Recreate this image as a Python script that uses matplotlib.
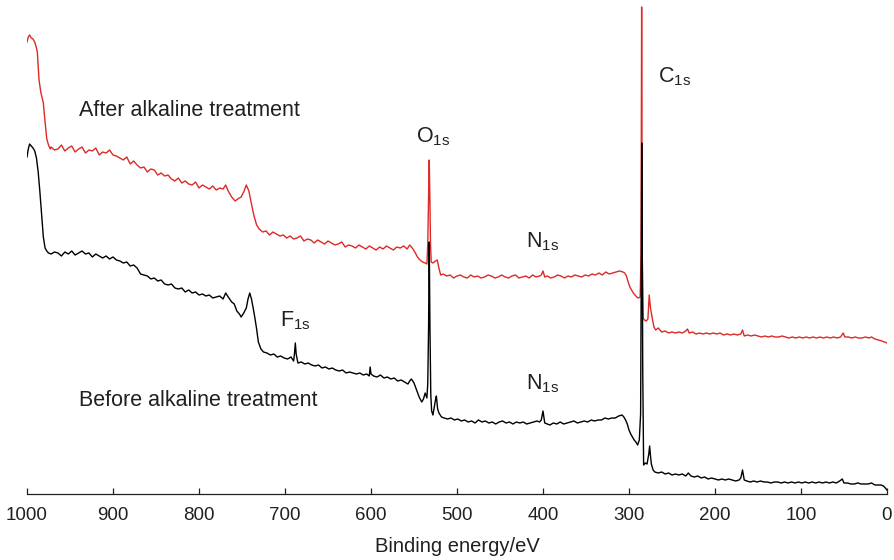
"""
XPS survey spectra before / after alkaline treatment
"""

import matplotlib

matplotlib.use("Agg")
import matplotlib.pyplot as plt

plt.rcParams['font.family'] = ['Liberation Sans', 'DejaVu Sans']
plt.rcParams['mathtext.default'] = 'regular'

# ========= data (binding energy / eV, intensity / a.u.) =========
after_ev = [
    1000, 998.5, 997, 995, 993, 991, 989, 988, 986, 984, 981, 979, 977, 975, 973,
    972, 968, 964, 960, 956, 952, 948, 944, 940, 936, 932, 928, 924, 920, 916,
    912, 908, 904, 900, 896, 892, 888, 884, 880, 876, 872, 868, 864, 860, 856,
    852, 848, 844, 840, 836, 832, 828, 824, 820, 816, 812, 808, 804, 800, 796,
    792, 788, 784, 780, 776, 772, 769, 766, 762, 758, 755, 751, 748, 745, 742,
    739, 736, 733, 730, 726, 722, 718, 714, 710, 706, 702, 698, 694, 690, 686,
    682, 678, 674, 670, 666, 662, 658, 654, 650, 646, 642, 638, 634, 630, 626,
    622, 618, 614, 610, 606, 602, 598, 594, 590, 586, 582, 578, 574, 570, 566,
    562, 558, 555, 552, 549, 546, 543, 540, 537, 535, 534, 533, 532.3, 531.6, 530.8,
    530, 528, 525, 523, 521, 519, 516, 512, 508, 504, 500, 496, 492, 488, 484,
    480, 476, 472, 468, 464, 460, 456, 452, 448, 444, 440, 436, 432, 428, 424,
    420, 416, 412, 408, 404, 402, 400, 398, 395, 391, 387, 383, 379, 375, 371,
    367, 363, 359, 355, 351, 347, 343, 339, 335, 331, 327, 323, 319, 315, 311,
    307, 305, 303, 301, 299, 297, 295, 293, 291, 289, 287, 286, 285.3, 284.6, 283.5,
    282, 280, 278, 276.5, 275, 273, 271, 269, 266, 262, 258, 254, 250, 246, 242,
    238, 234, 232, 230, 226, 222, 218, 214, 210, 206, 202, 198, 194, 190, 186,
    182, 178, 174, 170, 168, 166, 162, 158, 154, 150, 146, 142, 138, 134, 130,
    126, 122, 118, 114, 110, 106, 102, 98, 94, 90, 86, 82, 78, 74, 70,
    66, 62, 58, 54, 51, 49, 45, 41, 37, 33, 29, 25, 21, 18, 14,
    10, 6, 3, 0,
]
after_int = [
    452, 457, 459, 456, 455, 452, 446, 442, 414, 402, 391, 372, 355, 349, 345,
    347, 344, 345, 349, 343, 346, 348, 342, 345, 347, 341, 344, 343, 346, 339,
    342, 341, 344, 339, 338, 336, 334, 337, 330, 333, 329, 326, 327, 322, 325,
    324, 319, 321, 318, 319, 315, 313, 316, 311, 313, 310, 309, 312, 306, 309,
    307, 305, 308, 304, 306, 305, 309, 303, 297, 293, 295, 297, 302, 309, 303,
    290, 278, 269, 265, 262, 263, 259, 262, 260, 258, 259, 256, 258, 255, 256,
    258, 253, 255, 254, 251, 254, 252, 250, 253, 251, 249, 250, 252, 247, 249,
    248, 246, 249, 247, 245, 248, 246, 244, 247, 245, 248, 246, 244, 247, 246,
    248, 245, 249, 246, 242, 237, 234, 232, 231, 230, 250, 300, 334, 300, 250,
    232, 231, 233, 234, 226, 219, 220, 218, 219, 216, 218, 219, 217, 216, 219,
    217, 218, 216, 217, 219, 218, 216, 217, 219, 217, 216, 218, 219, 216, 217,
    218, 216, 219, 217, 218, 219, 223, 217, 218, 216, 217, 219, 218, 216, 218,
    217, 219, 218, 217, 219, 218, 220, 219, 221, 219, 222, 220, 221, 222, 223,
    222, 221, 218, 212, 207, 204, 201, 199, 197, 196, 197, 240, 487, 240, 176,
    174, 173, 175, 199, 186, 176, 167, 164, 166, 162, 163, 161, 162, 161, 162,
    161, 163, 165, 161, 162, 160, 161, 160, 161, 160, 161, 160, 161, 159, 160,
    159, 160, 159, 160, 164, 158, 159, 158, 159, 158, 157, 158, 157, 158, 157,
    157, 158, 157, 156, 157, 156, 157, 156, 157, 156, 157, 156, 157, 156, 157,
    156, 157, 156, 157, 161, 157, 157, 156, 157, 156, 156, 157, 156, 157, 155,
    154, 153, 152, 151,
]

before_ev = [
    1000, 998.5, 997, 995, 993, 991, 989, 987, 985, 983, 981, 979, 977, 975,
    972, 968, 964, 960, 956, 952, 948, 944, 940, 936, 932, 928, 924, 920, 916,
    912, 908, 904, 900, 896, 892, 888, 884, 880, 876, 872, 868, 864, 860, 856,
    852, 848, 844, 840, 836, 832, 828, 824, 820, 816, 812, 808, 804, 800, 796,
    792, 788, 784, 780, 776, 772, 769, 766, 762, 759, 756, 753, 751, 748, 745,
    743, 741, 739, 737, 735, 733, 731, 728, 725, 721, 717, 713, 709, 705, 701,
    697, 693, 690, 689, 688, 687, 685, 681, 677, 673, 669, 665, 661, 657, 653,
    649, 645, 641, 637, 633, 629, 625, 621, 617, 613, 609, 605, 602, 601, 600,
    597, 593, 589, 585, 581, 577, 573, 569, 565, 561, 557, 555, 553, 550, 547,
    544, 541, 539, 537, 535, 534, 533, 532.3, 531.5, 530.5, 529.5, 528, 525, 524,
    522.5, 521, 518, 515, 511, 507, 503, 499, 495, 491, 487, 483, 479, 475, 471,
    467, 463, 459, 455, 451, 447, 443, 439, 435, 431, 427, 423, 419, 415, 411,
    407, 404, 402, 400, 398, 395, 392, 388, 384, 380, 376, 372, 368, 364, 360,
    356, 352, 348, 344, 340, 336, 332, 328, 324, 320, 316, 312, 308, 306, 304,
    302, 300, 298, 296, 294, 292, 290, 288, 286.5, 285.6, 285.2, 284.6, 284, 283, 281,
    279, 277, 276, 275, 274, 272, 270, 266, 262, 258, 254, 250, 246, 242, 238,
    234, 231, 228, 224, 220, 216, 212, 208, 204, 200, 196, 192, 188, 184, 180,
    176, 172, 170, 168, 166, 163, 159, 155, 151, 147, 143, 139, 135, 131, 127,
    123, 119, 115, 111, 107, 103, 99, 95, 91, 87, 83, 79, 75, 71, 67,
    63, 59, 55, 52, 50, 46, 42, 38, 34, 30, 26, 22, 18, 14, 10,
    7, 4, 2, 0,
]
before_int = [
    337, 345, 350, 348, 346, 343, 336, 322, 302, 280, 257, 246, 243, 241,
    240, 242, 241, 238, 242, 240, 243, 239, 241, 243, 240, 241, 237, 240, 238,
    236, 238, 235, 237, 234, 233, 231, 232, 228, 229, 226, 220, 219, 218, 215,
    216, 213, 214, 210, 209, 210, 206, 205, 206, 202, 204, 201, 202, 199, 200,
    198, 199, 196, 197, 198, 195, 201, 197, 192, 190, 183, 180, 177, 181, 186,
    195, 201, 195, 186, 176, 165, 152, 145, 142, 141, 139, 140, 137, 138, 136,
    135, 137, 133, 140, 151, 140, 131, 132, 130, 131, 129, 128, 129, 126, 127,
    125, 126, 124, 123, 124, 121, 122, 121, 120, 121, 119, 120, 118, 127, 120,
    118, 117, 119, 116, 117, 115, 116, 113, 114, 112, 110, 113, 115, 111, 104,
    97, 92, 95, 101, 96, 110, 170, 252, 170, 100, 83, 79, 94, 98,
    85, 81, 77, 76, 75, 76, 74, 75, 73, 74, 72, 73, 71, 74, 72,
    73, 71, 72, 70, 72, 73, 71, 72, 70, 72, 71, 72, 70, 71, 72,
    73, 72, 74, 83, 71, 70, 69, 71, 70, 72, 70, 71, 72, 73, 71,
    72, 73, 72, 74, 73, 74, 74, 76, 75, 76, 76, 78, 79, 77, 74,
    70, 64, 60, 57, 54, 52, 49, 54, 80, 250, 351, 250, 120, 29, 31,
    30, 40, 48, 38, 30, 24, 22, 21, 22, 20, 21, 19, 20, 19, 20,
    18, 21, 18, 17, 18, 16, 17, 15, 16, 15, 14, 15, 14, 15, 14,
    13, 14, 16, 24, 14, 13, 12, 13, 12, 13, 12, 12, 11, 12, 12,
    11, 12, 11, 12, 11, 12, 11, 12, 11, 12, 11, 12, 11, 12, 11,
    12, 11, 13, 15, 11, 11, 10, 10, 11, 10, 10, 10, 11, 9, 9,
    9, 8, 6, 4,
]

TEXT = '#231f20'
RED = '#dc2a26'


def main():
    fig = plt.figure(figsize=(8.94, 5.60), dpi=100)
    ax = fig.add_axes([27 / 894, 66 / 560, 860 / 894, 494 / 560])

    ax.plot(after_ev, after_int, color=RED, linewidth=1.0)
    ax.plot(before_ev, before_int, color='black', linewidth=1.0)

    ax.set_xlim(1000, 0)
    ax.set_ylim(0, 494)
    ax.set_xticks(range(1000, -1, -100))

    for side in ('left', 'right', 'top'):
        ax.spines[side].set_visible(False)
    ax.spines['bottom'].set_linewidth(0.9)
    ax.spines['bottom'].set_color(TEXT)
    ax.set_yticks([])
    ax.tick_params(axis='x', direction='in', length=4, width=0.9, pad=9,
                   labelsize=13.5, colors=TEXT)
    ax.set_xlabel('Binding energy/eV', fontsize=14.5, color=TEXT, labelpad=10)

    # 标注
    kw = dict(fontsize=15.5, color=TEXT, ha='left', va='baseline')
    ax.text(939.5, 378, 'After alkaline treatment', **kw)
    ax.text(939.5, 88, 'Before alkaline treatment', **kw)
    ax.text(548, 352, r'O$_{1s}$', **kw)
    ax.text(266, 412, r'C$_{1s}$', **kw)
    ax.text(420, 247, r'N$_{1s}$', **kw)
    ax.text(420, 105, r'N$_{1s}$', **kw)
    ax.text(706, 168, r'F$_{1s}$', **kw)

    fig.savefig('out.png', dpi=100)
    plt.close(fig)


if __name__ == "__main__":
    main()
